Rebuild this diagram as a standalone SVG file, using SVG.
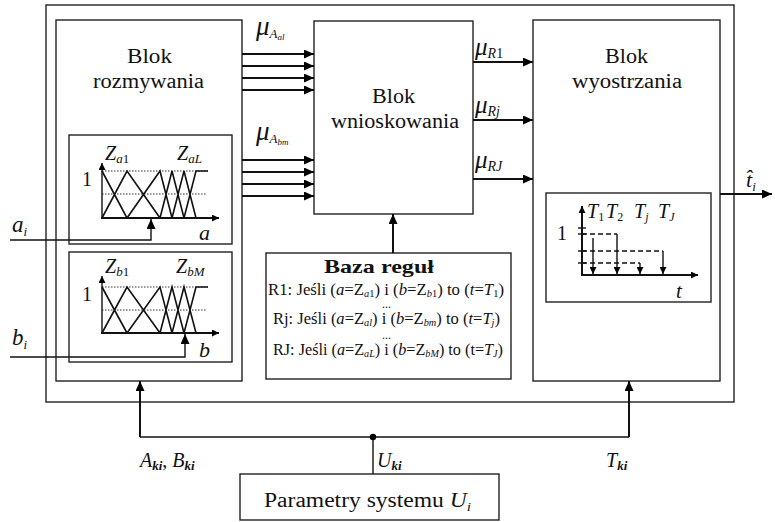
<svg xmlns="http://www.w3.org/2000/svg" width="775" height="522" viewBox="0 0 775 522">
<style>
text{font-family:"Liberation Serif","Times New Roman",serif;fill:#111}
.box{fill:none;stroke:#222;stroke-width:1.4}
.wire{fill:none;stroke:#111;stroke-width:2}
.thin{fill:none;stroke:#111;stroke-width:1.4}
.mf{fill:none;stroke:#111;stroke-width:1.6}
.dot{fill:none;stroke:#333;stroke-width:1;stroke-dasharray:1.5 1.5}
.dash{fill:none;stroke:#111;stroke-width:1.4;stroke-dasharray:5 3}
.it{font-style:italic}
.title{font-size:20px}
</style>
<defs>
<marker id="ah" markerWidth="10" markerHeight="9" refX="10" refY="4.5" orient="auto" markerUnits="userSpaceOnUse"><path d="M0,0L10,4.5L0,9z" fill="#000"/></marker>
<marker id="ahs" markerWidth="7" markerHeight="7" refX="7" refY="3.5" orient="auto" markerUnits="userSpaceOnUse"><path d="M0,0L7,3.5L0,7z" fill="#000"/></marker>
</defs>

<g id="system">
<rect class="box" x="46" y="5" width="688" height="397"/>
</g>

<g id="blok-rozmywania">
<rect class="box" x="56" y="20" width="186" height="361"/>
<text class="title" x="127" y="63" textLength="45" lengthAdjust="spacingAndGlyphs">Blok</text>
<text class="title" x="93" y="88" textLength="111" lengthAdjust="spacingAndGlyphs">rozmywania</text>
</g>

<g id="chart-a">
<rect class="box" x="69" y="135" width="163" height="109"/>
<line class="dot" x1="102" y1="171" x2="208" y2="171"/>
<line class="dot" x1="102" y1="194" x2="207" y2="194"/>
<path class="mf" d="M102,171L127,218M102,218L127,171L160,218M127,218L160,171L172,218M160,218L172,171L184,218M172,218L184,171L196,218M184,218L196,171L208,171"/>
<line class="thin" x1="102" y1="219" x2="102" y2="163" marker-end="url(#ahs)"/>
<line class="wire" x1="101" y1="218" x2="219" y2="218" marker-end="url(#ahs)"/>
<text class="it" font-size="20" x="105" y="160">Z<tspan font-size="13" dy="3">a</tspan><tspan font-size="13" font-style="normal">1</tspan></text>
<text class="it" font-size="20" x="177" y="160">Z<tspan font-size="13" dy="3">aL</tspan></text>
<text font-size="20" x="82" y="186">1</text>
<text class="it" font-size="22" x="199" y="240">a</text>
</g>

<g id="chart-b">
<rect class="box" x="69" y="252" width="163" height="110"/>
<line class="dot" x1="102" y1="287" x2="208" y2="287"/>
<line class="dot" x1="102" y1="310" x2="207" y2="310"/>
<path class="mf" d="M102,287L127,333M102,333L127,287L160,333M127,333L160,287L172,333M160,333L172,287L184,333M172,333L184,287L196,333M184,333L196,287L208,287"/>
<line class="thin" x1="102" y1="334" x2="102" y2="276" marker-end="url(#ahs)"/>
<line class="wire" x1="101" y1="333" x2="219" y2="333" marker-end="url(#ahs)"/>
<text class="it" font-size="20" x="105" y="273">Z<tspan font-size="13" dy="3">b</tspan><tspan font-size="13" font-style="normal">1</tspan></text>
<text class="it" font-size="20" x="176" y="273">Z<tspan font-size="13" dy="3">bM</tspan></text>
<text font-size="20" x="82" y="301">1</text>
<text class="it" font-size="22" x="199" y="357">b</text>
</g>

<g id="blok-wnioskowania">
<rect class="box" x="314" y="21" width="159" height="193"/>
<text class="title" x="372" y="103" textLength="43" lengthAdjust="spacingAndGlyphs">Blok</text>
<text class="title" x="331" y="128" textLength="128" lengthAdjust="spacingAndGlyphs">wnioskowania</text>
</g>

<g id="baza-regul">
<rect class="box" x="266" y="253" width="245" height="126"/>
<text font-size="19" font-weight="bold" x="324" y="273" textLength="110" lengthAdjust="spacingAndGlyphs">Baza reguł</text>
<text font-size="16" x="268" y="295" textLength="236" lengthAdjust="spacingAndGlyphs">R1: Jeśli (<tspan class="it">a</tspan>=Z<tspan font-size="10" dy="2" class="it">a</tspan><tspan font-size="10">1</tspan><tspan dy="-2">) i (</tspan><tspan class="it">b</tspan>=Z<tspan font-size="10" dy="2" class="it">b</tspan><tspan font-size="10">1</tspan><tspan dy="-2">) to (</tspan><tspan class="it">t</tspan>=<tspan class="it">T</tspan><tspan font-size="10" dy="2">1</tspan><tspan dy="-2">)</tspan></text>
<text font-size="12" x="382" y="308">...</text>
<text font-size="16" x="273" y="324" textLength="227" lengthAdjust="spacingAndGlyphs">Rj: Jeśli (<tspan class="it">a</tspan>=Z<tspan font-size="10" dy="2" class="it">al</tspan><tspan dy="-2">) i (</tspan><tspan class="it">b</tspan>=Z<tspan font-size="10" dy="2" class="it">bm</tspan><tspan dy="-2">) to (</tspan><tspan class="it">t</tspan>=<tspan class="it">T</tspan><tspan font-size="10" dy="2" class="it">j</tspan><tspan dy="-2">)</tspan></text>
<text font-size="12" x="382" y="339">...</text>
<text font-size="16" x="273" y="355" textLength="230" lengthAdjust="spacingAndGlyphs">RJ: Jeśli (<tspan class="it">a</tspan>=Z<tspan font-size="10" dy="2" class="it">aL</tspan><tspan dy="-2">) i (</tspan><tspan class="it">b</tspan>=Z<tspan font-size="10" dy="2" class="it">bM</tspan><tspan dy="-2">) to (t=</tspan><tspan class="it">T</tspan><tspan font-size="10" dy="2" class="it">J</tspan><tspan dy="-2">)</tspan></text>
</g>

<g id="blok-wyostrzania">
<rect class="box" x="533" y="20" width="187" height="361"/>
<text class="title" x="605" y="63" textLength="43" lengthAdjust="spacingAndGlyphs">Blok</text>
<text class="title" x="572" y="88" textLength="110" lengthAdjust="spacingAndGlyphs">wyostrzania</text>
</g>

<g id="chart-t">
<rect class="box" x="546" y="193" width="165" height="109"/>
<line class="dash" x1="582" y1="234" x2="617" y2="234"/>
<line class="dash" x1="582" y1="251" x2="663" y2="251"/>
<line class="dash" x1="582" y1="263" x2="640" y2="263"/>
<line class="thin" x1="578" y1="228" x2="586" y2="228"/>
<line class="thin" x1="578" y1="234" x2="586" y2="234"/>
<line class="thin" x1="578" y1="251" x2="586" y2="251"/>
<line class="thin" x1="578" y1="263" x2="586" y2="263"/>
<line class="thin" x1="593" y1="238" x2="593" y2="274" marker-end="url(#ahs)"/>
<line class="thin" x1="617" y1="234" x2="617" y2="274" marker-end="url(#ahs)"/>
<line class="thin" x1="640" y1="263" x2="640" y2="274" marker-end="url(#ahs)"/>
<line class="thin" x1="663" y1="251" x2="663" y2="274" marker-end="url(#ahs)"/>
<line class="wire" x1="582" y1="275" x2="582" y2="206" marker-end="url(#ahs)"/>
<line class="wire" x1="581" y1="275" x2="698" y2="275" marker-end="url(#ahs)"/>
<text class="it" font-size="20" x="587" y="218">T<tspan font-size="12" dy="3" font-style="normal">1</tspan></text>
<text class="it" font-size="20" x="606" y="218">T<tspan font-size="12" dy="3" font-style="normal">2</tspan></text>
<text class="it" font-size="20" x="634" y="218">T<tspan font-size="12" dy="3">j</tspan></text>
<text class="it" font-size="20" x="658" y="218">T<tspan font-size="12" dy="3">J</tspan></text>
<text font-size="20" x="557" y="240">1</text>
<text class="it" font-size="21" x="676" y="298">t</text>
</g>

<g id="parametry-systemu">
<rect class="box" x="240" y="474" width="259" height="46"/>
<text font-size="20" x="264" y="507" textLength="207" lengthAdjust="spacingAndGlyphs">Parametry systemu <tspan class="it">U</tspan><tspan class="it" font-size="13" dy="4">i</tspan></text>
</g>

<g id="connectors">
<line class="wire" x1="242" y1="54" x2="314" y2="54" marker-end="url(#ah)"/>
<line class="wire" x1="242" y1="66" x2="314" y2="66" marker-end="url(#ah)"/>
<line class="wire" x1="242" y1="78" x2="314" y2="78" marker-end="url(#ah)"/>
<line class="wire" x1="242" y1="90" x2="314" y2="90" marker-end="url(#ah)"/>
<line class="wire" x1="242" y1="160" x2="314" y2="160" marker-end="url(#ah)"/>
<line class="wire" x1="242" y1="172" x2="314" y2="172" marker-end="url(#ah)"/>
<line class="wire" x1="242" y1="184" x2="314" y2="184" marker-end="url(#ah)"/>
<line class="wire" x1="242" y1="196" x2="314" y2="196" marker-end="url(#ah)"/>
<line class="wire" x1="473" y1="62" x2="533" y2="62" marker-end="url(#ah)"/>
<line class="wire" x1="473" y1="120" x2="533" y2="120" marker-end="url(#ah)"/>
<line class="wire" x1="473" y1="179" x2="533" y2="179" marker-end="url(#ah)"/>
<line class="wire" x1="393" y1="253" x2="393" y2="214" marker-end="url(#ah)"/>
<line class="wire" x1="720" y1="194" x2="772" y2="194" marker-end="url(#ah)"/>
<path class="thin" d="M10,240H151V219" marker-end="url(#ah)"/>
<path class="thin" d="M10,357H185V334" marker-end="url(#ah)"/>
<path class="thin" d="M140,437H629"/>
<line class="wire" x1="140" y1="437" x2="140" y2="381" marker-end="url(#ah)"/>
<line class="wire" x1="629" y1="437" x2="629" y2="381" marker-end="url(#ah)"/>
<line class="thin" x1="373" y1="437" x2="373" y2="474"/>
<circle cx="373" cy="437" r="3.2" fill="#000"/>
<text class="it" font-size="27" x="256" y="35">μ<tspan font-size="13" dy="3">A</tspan><tspan font-size="9" dy="2">al</tspan></text>
<text class="it" font-size="27" x="256" y="140">μ<tspan font-size="13" dy="3">A</tspan><tspan font-size="9" dy="2">bm</tspan></text>
<text class="it" font-size="25" x="475" y="55">μ<tspan font-size="14" dy="3">R</tspan><tspan font-size="14" font-style="normal">1</tspan></text>
<text class="it" font-size="25" x="475" y="113">μ<tspan font-size="14" dy="3">Rj</tspan></text>
<text class="it" font-size="25" x="475" y="168">μ<tspan font-size="14" dy="3">RJ</tspan></text>
<text class="it" font-size="22" x="746" y="187">t̂<tspan font-size="13" dy="4">i</tspan></text>
<text class="it" font-size="23" x="12" y="232">a<tspan font-size="13" dy="4">i</tspan></text>
<text class="it" font-size="23" x="12" y="345">b<tspan font-size="13" dy="4">i</tspan></text>
<text class="it" font-size="20" x="140" y="467">A<tspan font-size="13" dy="3" font-weight="bold">ki</tspan><tspan dy="-3" font-style="normal">, </tspan>B<tspan font-size="13" dy="3" font-weight="bold">ki</tspan></text>
<text class="it" font-size="20" x="377" y="467">U<tspan font-size="13" dy="3" font-weight="bold">ki</tspan></text>
<text class="it" font-size="20" x="606" y="467">T<tspan font-size="13" dy="3" font-weight="bold">ki</tspan></text>
</g>
</svg>
